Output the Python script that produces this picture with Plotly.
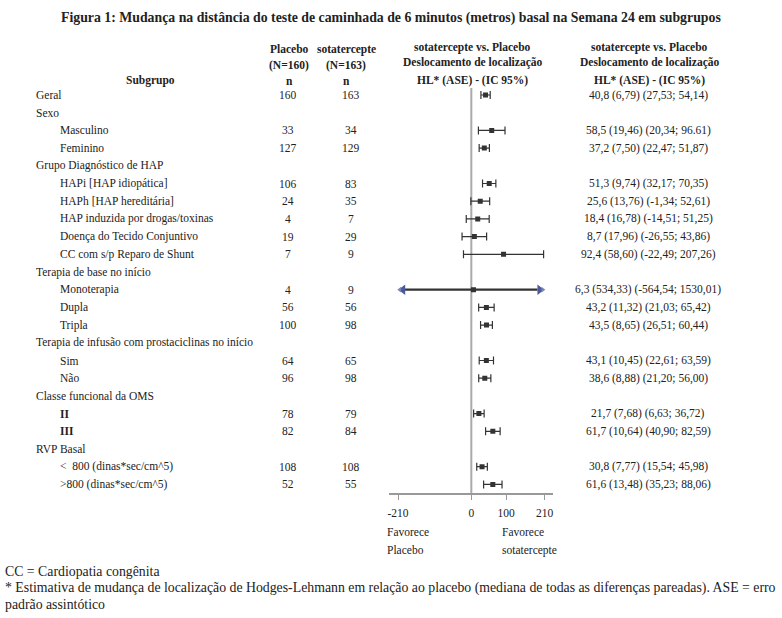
import plotly.graph_objects as go

# ---------------- data ----------------
subgroups = [
    "Geral", "Sexo", "Masculino", "Feminino", "Grupo Diagnóstico de HAP",
    "HAPi [HAP idiopática]", "HAPh [HAP hereditária]", "HAP induzida por drogas/toxinas",
    "Doença do Tecido Conjuntivo", "CC com s/p Reparo de Shunt",
    "Terapia de base no início", "Monoterapia", "Dupla", "Tripla",
    "Terapia de infusão com prostaciclinas no início", "Sim", "Não",
    "Classe funcional da OMS", "II", "III",
    "RVP Basal", "<  800 (dinas*sec/cm^5)", ">800 (dinas*sec/cm^5)",
]
levels = [0, 0, 1, 1, 0, 1, 1, 1, 1, 1, 0, 1, 1, 1, 0, 1, 1, 0, 1, 1, 0, 1, 1]
bold_labels = ["II", "III"]

n_placebo = [160, None, 33, 127, None, 106, 24, 4, 19, 7, None, 4, 56, 100, None, 64, 96, None, 78, 82, None, 108, 52]
n_sotatercept = [163, None, 34, 129, None, 83, 35, 7, 29, 9, None, 9, 56, 98, None, 65, 98, None, 79, 84, None, 108, 55]

hl_est = [40.8, None, 58.5, 37.2, None, 51.3, 25.6, 18.4, 8.7, 92.4, None, 6.3, 43.2, 43.5, None, 43.1, 38.6, None, 21.7, 61.7, None, 30.8, 61.6]
ci_low = [27.53, None, 20.34, 22.47, None, 32.17, -1.34, -14.51, -26.55, -22.49, None, -564.54, 21.03, 26.51, None, 22.61, 21.20, None, 6.63, 40.90, None, 15.54, 35.23]
ci_high = [54.14, None, 96.61, 51.87, None, 70.35, 52.61, 51.25, 43.86, 207.26, None, 1530.01, 65.42, 60.44, None, 63.59, 56.00, None, 36.72, 82.59, None, 45.98, 88.06]

result_labels = [
    "40,8 (6,79) (27,53; 54,14)", "", "58,5 (19,46) (20,34; 96.61)", "37,2 (7,50) (22,47; 51,87)", "",
    "51,3 (9,74) (32,17; 70,35)", "25,6 (13,76) (-1,34; 52,61)", "18,4 (16,78) (-14,51; 51,25)",
    "8,7 (17,96) (-26,55; 43,86)", "92,4 (58,60) (-22,49; 207,26)", "",
    "6,3 (534,33) (-564,54; 1530,01)", "43,2 (11,32) (21,03; 65,42)", "43,5 (8,65) (26,51; 60,44)", "",
    "43,1 (10,45) (22,61; 63,59)", "38,6 (8,88) (21,20; 56,00)", "",
    "21,7 (7,68) (6,63; 36,72)", "61,7 (10,64) (40,90; 82,59)", "",
    "30,8 (7,77) (15,54; 45,98)", "61,6 (13,48) (35,23; 88,06)",
]

x_ticks = [-210, 0, 100, 210]
x_range = [-236, 233]
display_limit = 210  # CIs beyond this are clipped and drawn with arrows

title = "Figura 1: Mudança na distância do teste de caminhada de 6 minutos (metros) basal na Semana 24 em subgrupos"
footnotes = [
    "CC = Cardiopatia congênita",
    "* Estimativa de mudança de localização de Hodges-Lehmann em relação ao placebo (mediana de todas as diferenças pareadas). ASE = erro",
    "padrão assintótico",
]

# ---------------- layout constants ----------------
W, H = 782, 618
ROW0_PX, PITCH, AXIS_PX = 95.0, 17.7, 493.0
FONT = "Liberation Serif"
INK = "#222222"
BAR = "#333333"
BODY = 11.5


def px(x):
    return x / W


def py(y):
    return 1 - y / H


y_top = -ROW0_PX / PITCH
y_bot = (AXIS_PX - ROW0_PX) / PITCH

fig = go.Figure()

# regular CIs
ex, ey, eplus, eminus = [], [], [], []
clipped = []
for i, (e, lo, hi) in enumerate(zip(hl_est, ci_low, ci_high)):
    if e is None:
        continue
    if lo < -display_limit or hi > display_limit:
        clipped.append(i)
        continue
    ex.append(e)
    ey.append(i)
    eplus.append(hi - e)
    eminus.append(e - lo)

fig.add_trace(go.Scatter(
    x=ex, y=ey, mode="markers",
    marker=dict(symbol="square", size=5, color=BAR),
    error_x=dict(type="data", array=eplus, arrayminus=eminus, symmetric=False,
                 color=BAR, thickness=1.2, width=4),
    showlegend=False, hoverinfo="skip",
))

# clipped CIs
for i in clipped:
    lo = max(ci_low[i], -display_limit)
    hi = min(ci_high[i], display_limit)
    fig.add_trace(go.Scatter(x=[lo + 20, hi - 20], y=[i, i], mode="lines",
                             line=dict(color=BAR, width=2.2),
                             showlegend=False, hoverinfo="skip"))
    fig.add_trace(go.Scatter(x=[lo + 14, hi - 14], y=[i, i], mode="markers",
                             marker=dict(symbol=["triangle-left", "triangle-right"], size=9,
                                         color="#4b5a9c"),
                             showlegend=False, hoverinfo="skip"))
    fig.add_trace(go.Scatter(x=[lo + 5, hi - 5], y=[i, i], mode="markers",
                             marker=dict(symbol=["triangle-left", "triangle-right"], size=5,
                                         color="#7a86b8"),
                             showlegend=False, hoverinfo="skip"))
    fig.add_trace(go.Scatter(x=[hl_est[i]], y=[i], mode="markers",
                             marker=dict(symbol="square", size=5, color=BAR),
                             showlegend=False, hoverinfo="skip"))

# reference line at 0
fig.add_shape(type="line", xref="x", yref="y", x0=0, x1=0, y0=-0.4, y1=y_bot,
              line=dict(color="#aaaaaa", width=2), layer="below")

ann = []


def text(x, y, s, size=BODY, anchor="left", bold=False, xref="paper", yref="paper"):
    ann.append(dict(x=x, y=y, xref=xref, yref=yref, text=f"<b>{s}</b>" if bold else s,
                    showarrow=False, xanchor=anchor, yanchor="middle",
                    font=dict(family=FONT, size=size, color=INK)))


# title
text(px(391), py(18), title, size=13.8, anchor="center", bold=True)

# headers
text(px(150), py(80), "Subgrupo", anchor="center", bold=True)
for s, y in zip(["Placebo", "(N=160)", "n"], [49, 65, 81]):
    text(px(289), py(y), s, anchor="center", bold=True)
for s, y in zip(["sotatercepte", "(N=163)", "n"], [49, 65, 81]):
    text(px(346), py(y), s, anchor="center", bold=True)
for s, y in zip(["sotatercepte vs. Placebo", "Deslocamento de localização", "HL* (ASE) - (IC 95%)"], [47, 63, 80]):
    text(px(473), py(y), s, anchor="center", bold=True)
    text(px(650), py(y), s, anchor="center", bold=True)

# rows
for i, lab in enumerate(subgroups):
    xpos = 33 if levels[i] == 0 else 57
    text(px(xpos), i, lab, bold=lab in bold_labels, yref="y")
    if n_placebo[i] is not None:
        text(px(288), i, str(n_placebo[i]), anchor="center", yref="y")
        text(px(351), i, str(n_sotatercept[i]), anchor="center", yref="y")
    if result_labels[i]:
        text(px(649), i, result_labels[i], anchor="center", yref="y")

# favour labels
text(px(385), py(532), "Favorece")
text(px(385), py(550), "Placebo")
text(px(500), py(532), "Favorece")
text(px(500), py(550), "sotatercepte")

# footnotes
for s, y in zip(footnotes, [571, 588, 604]):
    text(px(2), py(y), s, size=13.8)

fig.update_layout(
    width=W, height=H, margin=dict(l=0, r=0, t=0, b=0),
    paper_bgcolor="white", plot_bgcolor="white",
    annotations=ann, showlegend=False,
    xaxis=dict(domain=[px(389), px(553)], range=x_range, tickvals=x_ticks,
               ticktext=[str(t) for t in x_ticks], ticks="outside", ticklen=5,
               tickcolor="#999999", tickwidth=1.2, showline=True, linecolor="#999999",
               linewidth=1.5, showgrid=False, zeroline=False, ticklabelstandoff=3,
               tickfont=dict(family=FONT, size=BODY, color=INK), fixedrange=True),
    yaxis=dict(domain=[py(AXIS_PX), 1], range=[y_bot, y_top], visible=False,
               showgrid=False, zeroline=False, fixedrange=True),
)

fig.write_html("out.html", config={"displayModeBar": False},
               post_script="document.body.style.margin='0';document.body.style.overflow='hidden';")
